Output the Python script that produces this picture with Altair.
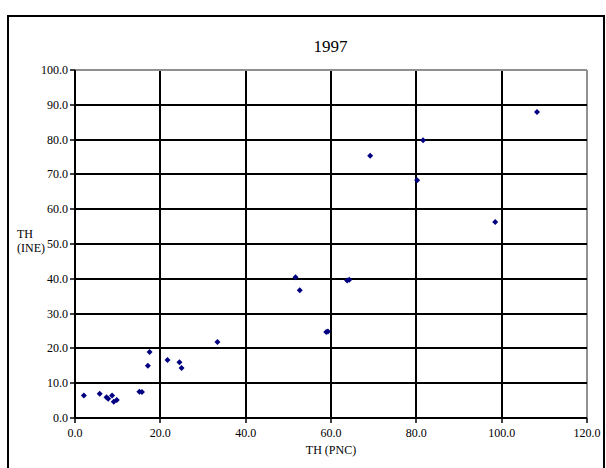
import altair as alt
import pandas as pd

# TH (PNC) vs TH (INE), 1997
th_pnc = [2.2, 5.9, 7.5, 7.9, 8.8, 9.2, 9.9, 15.2, 15.8, 17.2, 17.6, 21.8, 24.6, 25.1,
          33.5, 51.8, 52.8, 59.0, 59.4, 63.9, 64.4, 69.3, 80.3, 81.7, 98.6, 108.4]
th_ine = [6.3, 6.8, 5.8, 5.4, 6.3, 4.5, 5.0, 7.4, 7.3, 14.9, 18.8, 16.5, 15.9, 14.2,
          21.7, 40.3, 36.6, 24.6, 24.7, 39.4, 39.6, 75.2, 68.2, 79.7, 56.2, 87.8]

x_ticks = [0, 20, 40, 60, 80, 100, 120]
y_ticks = [0, 10, 20, 30, 40, 50, 60, 70, 80, 90, 100]
title_text = ["1997"]

df = pd.DataFrame({"pnc": th_pnc, "ine": th_ine})

FONT = "Liberation Serif, Times New Roman, serif"

points = alt.Chart(df).mark_point(
    shape="diamond", filled=True, color="#000080", size=36, opacity=1
).encode(
    x=alt.X("pnc:Q",
            scale=alt.Scale(domain=[0, 120], nice=False, zero=True),
            axis=alt.Axis(values=x_ticks, format=".1f", title="TH (PNC)",
                          grid=True, labelFlush=False, labelOverlap=False,
                          gridColor={"condition": {"test": "datum.value === 120", "value": "#909090"}, "value": "black"},
                          gridWidth=2, domainColor="black", domainWidth=2,
                          tickColor="black", tickSize=5, tickWidth=1.5,
                          labelFont=FONT, labelFontSize=12, labelColor="black",
                          labelPadding=5, titleFont=FONT, titleFontSize=12,
                          titleFontWeight="normal", titleColor="black", titlePadding=6)),
    y=alt.Y("ine:Q",
            scale=alt.Scale(domain=[0, 100], nice=False, zero=True),
            axis=alt.Axis(values=y_ticks, format=".1f", title=["TH", "(INE)"],
                          grid=True, labelFlush=False, labelOverlap=False,
                          gridColor={"condition": {"test": "datum.value === 100", "value": "#909090"}, "value": "black"},
                          gridWidth=2, domainColor="black", domainWidth=2,
                          tickColor="black", tickSize=5, tickWidth=1.5,
                          labelFont=FONT, labelFontSize=12, labelColor="black",
                          labelPadding=2, titleFont=FONT, titleFontSize=12,
                          titleFontWeight="normal", titleColor="black",
                          titleAngle=0, titleAlign="left", titleBaseline="middle",
                          titleX=-58, titleY=164, titleLineHeight=14)),
)

frame = alt.Chart(pd.DataFrame({"k": [0]})).mark_rect(
    fill=None, stroke="black", strokeWidth=2
).encode(
    x=alt.value(-66.5), x2=alt.value(529.5),
    y=alt.value(-53.5), y2=alt.value(410),
)

title = alt.Chart(pd.DataFrame({"t": title_text})).mark_text(
    font=FONT, fontSize=17, color="black", align="center", baseline="middle"
).encode(
    text="t:N",
    x=alt.value(256), y=alt.value(-23),
)

chart = alt.layer(frame, points, title).properties(
    width=512, height=348,
    autosize=alt.AutoSizeParams(type="none"),
    padding={"left": 74.5, "top": 69.5, "right": 19.5, "bottom": 50.5},
).configure_view(stroke="#909090", strokeWidth=2).configure_axis(
    labelFont=FONT, titleFont=FONT
).configure(background="white")

chart.save("out.html", embed_options={"renderer": "svg", "actions": False})
